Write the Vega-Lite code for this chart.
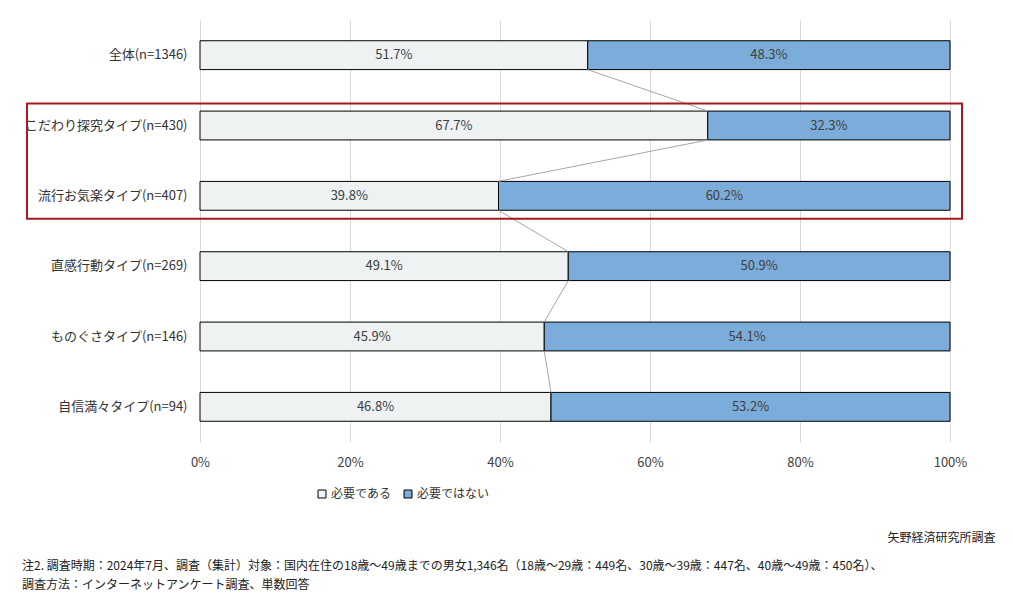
{
  "$schema": "https://vega.github.io/schema/vega-lite/v6.json",
  "width": 750,
  "height": 422,
  "autosize": "none",
  "padding": {"left": 200, "top": 20, "right": 63, "bottom": 165},
  "background": "white",
  "config": {
    "font": "Noto Sans CJK JP",
    "view": {"stroke": null}
  },
  "title": {
    "text": ["注2. 調査時期：2024年7月、調査（集計）対象：国内在住の18歳～49歳までの男女1,346名（18歳～29歳：449名、30歳～39歳：447名、40歳～49歳：450名）、", "調査方法：インターネットアンケート調査、単数回答"],
    "orient": "bottom",
    "anchor": "start",
    "frame": "group",
    "dx": -178,
    "offset": 18,
    "fontSize": 12,
    "fontWeight": "normal",
    "color": "#222222",
    "lineHeight": 19,
    "font": "Noto Sans CJK JP"
  },
  "datasets": {
    "bars": [
      {"cat": "全体(n=1346)", "ans": "必要である", "v": 0.517},
      {"cat": "全体(n=1346)", "ans": "必要ではない", "v": 0.483},
      {"cat": "こだわり探究タイプ(n=430)", "ans": "必要である", "v": 0.677},
      {"cat": "こだわり探究タイプ(n=430)", "ans": "必要ではない", "v": 0.323},
      {"cat": "流行お気楽タイプ(n=407)", "ans": "必要である", "v": 0.398},
      {"cat": "流行お気楽タイプ(n=407)", "ans": "必要ではない", "v": 0.602},
      {"cat": "直感行動タイプ(n=269)", "ans": "必要である", "v": 0.491},
      {"cat": "直感行動タイプ(n=269)", "ans": "必要ではない", "v": 0.509},
      {"cat": "ものぐさタイプ(n=146)", "ans": "必要である", "v": 0.459},
      {"cat": "ものぐさタイプ(n=146)", "ans": "必要ではない", "v": 0.541},
      {"cat": "自信満々タイプ(n=94)", "ans": "必要である", "v": 0.468},
      {"cat": "自信満々タイプ(n=94)", "ans": "必要ではない", "v": 0.532}
    ],
    "links": [
      {"from": "全体(n=1346)", "to": "こだわり探究タイプ(n=430)", "a": 0.517, "b": 0.677},
      {"from": "こだわり探究タイプ(n=430)", "to": "流行お気楽タイプ(n=407)", "a": 0.677, "b": 0.398},
      {"from": "流行お気楽タイプ(n=407)", "to": "直感行動タイプ(n=269)", "a": 0.398, "b": 0.491},
      {"from": "直感行動タイプ(n=269)", "to": "ものぐさタイプ(n=146)", "a": 0.491, "b": 0.459},
      {"from": "ものぐさタイプ(n=146)", "to": "自信満々タイプ(n=94)", "a": 0.459, "b": 0.468}
    ],
    "box": [
      {"top": "こだわり探究タイプ(n=430)", "bottom": "流行お気楽タイプ(n=407)", "l": -0.2307, "r": 1.016}
    ]
  },
  "layer": [
    {
      "data": {"name": "bars"},
      "transform": [
        {"stack": "v", "groupby": ["cat"], "sort": [{"field": "ans", "order": "ascending"}], "as": ["v0", "v1"]}
      ],
      "mark": {"type": "bar", "stroke": "#000000", "strokeWidth": 1},
      "encoding": {
        "y": {
          "field": "cat",
          "type": "nominal",
          "scale": {
            "domain": ["全体(n=1346)", "こだわり探究タイプ(n=430)", "流行お気楽タイプ(n=407)", "直感行動タイプ(n=269)", "ものぐさタイプ(n=146)", "自信満々タイプ(n=94)"],
            "paddingInner": 0.59,
            "paddingOuter": 0.295
          },
          "axis": {
            "title": "矢野経済研究所調査",
            "titleAngle": 0,
            "titleAnchor": null,
            "domain": false,
            "ticks": false,
            "labelFontSize": 13,
            "labelColor": "#333333",
            "labelPadding": 13,
            "labelFont": "Noto Sans CJK JP",
            "titleFontSize": 12,
            "titleFontWeight": "normal",
            "titleColor": "#222222",
            "titleAlign": "right",
            "titleBaseline": "alphabetic",
            "titleX": 795,
            "titleY": 521
          }
        },
        "x": {
          "field": "v0",
          "type": "quantitative",
          "scale": {"domain": [0, 1], "nice": false},
          "axis": {
            "title": null,
            "format": ".0%",
            "values": [0, 0.2, 0.4, 0.6, 0.8, 1],
            "domain": false,
            "ticks": false,
            "grid": true,
            "gridColor": "#d9d9d9",
            "labelFlush": false,
            "labelFontSize": 13,
            "labelColor": "#404040",
            "labelPadding": 14,
            "labelFont": "Noto Sans CJK JP"
          }
        },
        "x2": {"field": "v1"},
        "color": {
          "field": "ans",
          "type": "nominal",
          "scale": {"domain": ["必要である", "必要ではない"], "range": ["#eef2f3", "#7cacd9"]},
          "legend": {
            "title": null,
            "orient": "none",
            "direction": "horizontal",
            "legendX": 116,
            "legendY": 468,
            "symbolType": "square",
            "symbolSize": 64,
            "symbolStrokeColor": "#000000",
            "symbolStrokeWidth": 1,
            "labelFontSize": 12,
            "labelColor": "#333333",
            "labelFont": "Noto Sans CJK JP",
            "columnPadding": 10,
            "labelOffset": 3
          }
        }
      }
    },
    {
      "data": {"name": "bars"},
      "transform": [
        {"stack": "v", "groupby": ["cat"], "sort": [{"field": "ans", "order": "ascending"}], "as": ["v0", "v1"]},
        {"fold": ["v0", "v1"], "as": ["edge", "pos"]},
        {"aggregate": [{"op": "mean", "field": "pos", "as": "mid"}], "groupby": ["cat", "ans", "v"]}
      ],
      "mark": {"type": "text", "fontSize": 13, "color": "#404040", "baseline": "middle", "align": "center"},
      "encoding": {
        "y": {"field": "cat", "type": "nominal"},
        "x": {"field": "mid", "type": "quantitative"},
        "text": {"field": "v", "format": ".1%"}
      }
    },
    {
      "data": {"name": "links"},
      "mark": {"type": "rule", "color": "#a6a6a6", "strokeWidth": 1, "yOffset": 14.5, "y2Offset": -14.5},
      "encoding": {
        "y": {"field": "from", "type": "nominal"},
        "y2": {"field": "to"},
        "x": {"field": "a", "type": "quantitative"},
        "x2": {"field": "b"}
      }
    },
    {
      "data": {"name": "box"},
      "mark": {"type": "rect", "fill": null, "fillOpacity": 0, "stroke": "#a31a1f", "strokeWidth": 2, "yOffset": -22, "y2Offset": 23},
      "encoding": {
        "y": {"field": "top", "type": "nominal"},
        "y2": {"field": "bottom"},
        "x": {"field": "l", "type": "quantitative"},
        "x2": {"field": "r"}
      }
    }
  ]
}
